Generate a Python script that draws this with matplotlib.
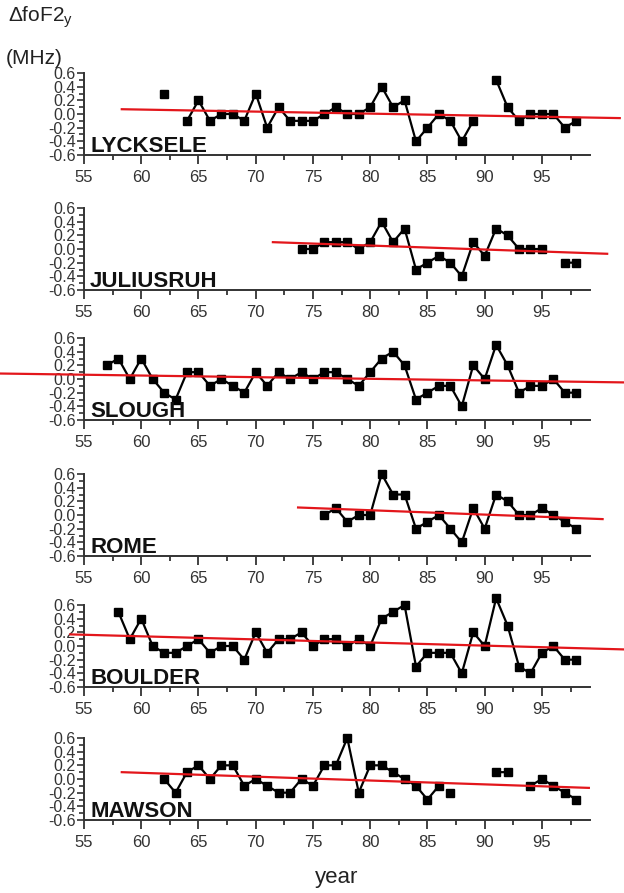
import numpy as np
import matplotlib
matplotlib.use('Agg')
import matplotlib.pyplot as plt
from matplotlib.ticker import MultipleLocator

plt.rcParams['font.family'] = ['Liberation Sans', 'DejaVu Sans']
plt.rcParams['axes.unicode_minus'] = False
plt.rcParams['mathtext.fontset'] = 'custom'
plt.rcParams['mathtext.rm'] = 'Liberation Sans'
plt.rcParams['mathtext.default'] = 'regular'

nan = np.nan

# station names
stations = ['LYCKSELE', 'JULIUSRUH', 'SLOUGH', 'ROME', 'BOULDER', 'MAWSON']

# yearly deviations (MHz), one list per station with its first year
lycksele_start = 62
lycksele = [0.3, nan, -0.1, 0.2, -0.1, 0.0, 0.0, -0.1, 0.3, -0.2, 0.1, -0.1, -0.1,
            -0.1, 0.0, 0.1, 0.0, 0.0, 0.1, 0.4, 0.1, 0.2, -0.4, -0.2, 0.0, -0.1,
            -0.4, -0.1, nan, 0.5, 0.1, -0.1, 0.0, 0.0, 0.0, -0.2, -0.1]

juliusruh_start = 74
juliusruh = [0.0, 0.0, 0.1, 0.1, 0.1, 0.0, 0.1, 0.4, 0.1, 0.3, -0.3, -0.2, -0.1,
             -0.2, -0.4, 0.1, -0.1, 0.3, 0.2, 0.0, 0.0, 0.0, nan, -0.2, -0.2]

slough_start = 57
slough = [0.2, 0.3, 0.0, 0.3, 0.0, -0.2, -0.3, 0.1, 0.1, -0.1, 0.0, -0.1, -0.2,
          0.1, -0.1, 0.1, 0.0, 0.1, 0.0, 0.1, 0.1, 0.0, -0.1, 0.1, 0.3, 0.4, 0.2,
          -0.3, -0.2, -0.1, -0.1, -0.4, 0.2, 0.0, 0.5, 0.2, -0.2, -0.1, -0.1, 0.0,
          -0.2, -0.2]

rome_start = 76
rome = [0.0, 0.1, -0.1, 0.0, 0.0, 0.6, 0.3, 0.3, -0.2, -0.1, 0.0, -0.2, -0.4,
        0.1, -0.2, 0.3, 0.2, 0.0, 0.0, 0.1, 0.0, -0.1, -0.2]

boulder_start = 58
boulder = [0.5, 0.1, 0.4, 0.0, -0.1, -0.1, 0.0, 0.1, -0.1, 0.0, 0.0, -0.2, 0.2,
           -0.1, 0.1, 0.1, 0.2, 0.0, 0.1, 0.1, 0.0, 0.1, 0.0, 0.4, 0.5, 0.6, -0.3,
           -0.1, -0.1, -0.1, -0.4, 0.2, 0.0, 0.7, 0.3, -0.3, -0.4, -0.1, 0.0,
           -0.2, -0.2]

mawson_start = 62
mawson = [0.0, -0.2, 0.1, 0.2, 0.0, 0.2, 0.2, -0.1, 0.0, -0.1, -0.2, -0.2, 0.0,
          -0.1, 0.2, 0.2, 0.6, -0.2, 0.2, 0.2, 0.1, 0.0, -0.1, -0.3, -0.1, -0.2,
          nan, nan, nan, 0.1, 0.1, nan, -0.1, 0.0, -0.1, -0.2, -0.3]

# years where the connecting line is interrupted (no line into that year)
line_breaks = [[], [], [], [], [], [87]]

# linear trend lines (start year, end year) and (start value, end value)
trend_years = [(58.3, 101.8), (71.5, 100.7), (47.7, 102.2),
               (73.7, 100.3), (53.8, 102.2), (58.3, 99.1)]
trend_vals = [(0.07, -0.06), (0.10, -0.07), (0.08, -0.05),
              (0.11, -0.06), (0.17, -0.05), (0.10, -0.13)]

series = [(lycksele_start, lycksele), (juliusruh_start, juliusruh),
          (slough_start, slough), (rome_start, rome),
          (boulder_start, boulder), (mawson_start, mawson)]

W, H = 624, 893
fig = plt.figure(figsize=(W / 100, H / 100), dpi=100)

# panel bottoms in pixels, common height
bottoms = [155, 290, 420, 556, 687, 820]
panel_h = 82
left_px, right_px = 84, 590

gray = '#333333'
for i, name in enumerate(stations):
    ax = fig.add_axes([left_px / W, 1 - bottoms[i] / H,
                       (right_px - left_px) / W, panel_h / H])
    start, vals = series[i]
    yrs = np.arange(start, start + len(vals)).astype(float)
    vals = np.array(vals, dtype=float)

    # connecting line, with a gap before each break year
    lx, ly = list(yrs), list(vals)
    for b in sorted(line_breaks[i], reverse=True):
        k = lx.index(b)
        lx.insert(k, b - 0.5)
        ly.insert(k, nan)
    ax.plot(lx, ly, color='black', lw=1.6, clip_on=False, zorder=3)
    ax.plot(yrs, vals, ls='none', color='black', marker='s', ms=6,
            clip_on=False, zorder=3)
    ax.plot(trend_years[i], trend_vals[i], color='#e3161b', lw=1.6,
            clip_on=False, zorder=4)

    ax.set_xlim(55, 99.2)
    ax.set_ylim(-0.6, 0.6)
    ax.set_xticks(range(55, 100, 5))
    ax.xaxis.set_minor_locator(MultipleLocator(2.5))
    yt = np.round(np.arange(-0.6, 0.61, 0.2), 1)
    ax.set_yticks(yt)
    ax.yaxis.set_minor_locator(MultipleLocator(0.1))
    ax.set_yticklabels(['%.1f' % v for v in yt])

    for s in ['top', 'right']:
        ax.spines[s].set_visible(False)
    for s in ['left', 'bottom']:
        ax.spines[s].set_color(gray)
        ax.spines[s].set_linewidth(1.4)

    ax.tick_params(axis='x', which='major', direction='out', length=6.5,
                   width=1.3, colors=gray, labelsize=12, pad=4)
    ax.tick_params(axis='x', which='minor', direction='out', length=3.5,
                   width=1.3, colors=gray)
    ax.tick_params(axis='y', which='major', direction='out', length=5,
                   width=1.2, colors=gray, labelsize=11.5, pad=1)
    ax.tick_params(axis='y', which='minor', direction='out', length=3.5,
                   width=1.2, colors=gray)

    ax.text(0.012, 0.04, name, transform=ax.transAxes, fontsize=16,
            fontweight='bold', color='#111111', va='baseline', ha='left',
            zorder=5)

fig.text(8 / W, 1 - 17 / H, 'ΔfoF2$_y$', fontsize=15, va='center',
         ha='left', color='#222222')
fig.text(6 / W, 1 - 58 / H, '(MHz)', fontsize=15, va='center', ha='left',
         color='#222222')
fig.text((left_px + right_px) / 2 / W, 1 - 878 / H, 'year', fontsize=16,
         va='center', ha='center', color='#222222')

fig.savefig('out.png', dpi=100)
